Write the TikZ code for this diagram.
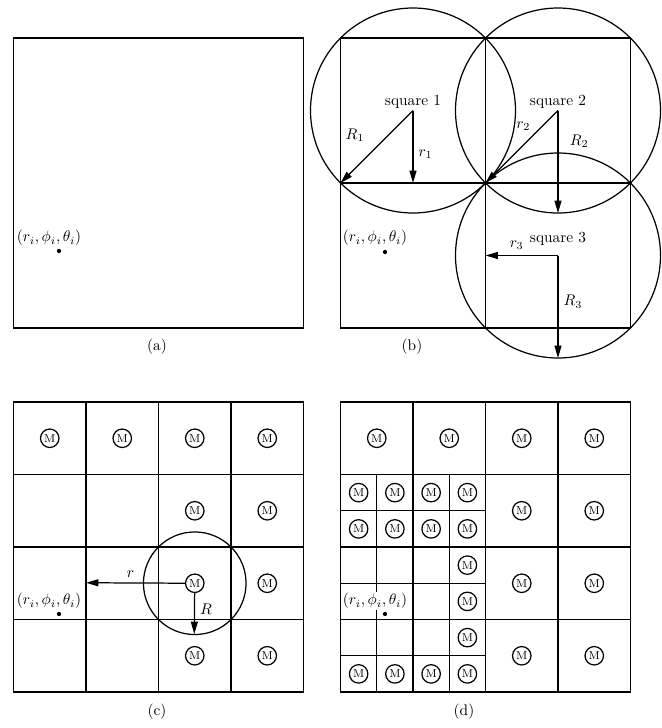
\documentclass[tikz,border=0pt]{standalone}
\usepackage{amsfonts,amsmath,amssymb}
\usepackage{tikz}
\usetikzlibrary{arrows.meta,shapes}
\begin{document}
\begin{tikzpicture}[x=0.65pt,y=-0.65pt,>={Triangle[length=8pt,width=4.5pt]},line width=0.8pt,
  mol/.style={shape=circle,draw,line width=0.8pt,minimum size=12pt,inner sep=0pt,font=\fontsize{7.5}{8}\selectfont},
  spot/.style={shape=circle,fill=black,inner sep=0pt,minimum size=2.8pt},
  outer/.style={line width=1.1pt}]
\useasboundingbox(0,0)rectangle(662,728);
\draw[outer](13.5,38)rectangle(303.5,328);
\node[spot](pa)at(59,251){};
\node(la)at(49,238){$(r_i,\phi_i,\theta_i)$};
\node(ca)at(157,347){(a)};
\draw[outer](340.5,38)rectangle(630.5,328);
\draw(485.5,38)--(485.5,328)(340.5,183)--(630.5,183);
\coordinate(s1)at(413,110.5);
\coordinate(s2)at(558,110.5);
\coordinate(s3)at(558,255.5);
\foreach \s in {s1,s2,s3}\draw(\s)circle(102.5);
\coordinate(k1)at(340.5,183);
\coordinate(m1)at(413,183);
\coordinate(k2)at(485.5,183);
\coordinate(b2)at(558,213);
\coordinate(w3)at(485.5,255.5);
\coordinate(b3)at(558,358);
\node[above,inner sep=1pt](q1)at(s1){square 1};
\node[above,inner sep=1pt](q2)at(s2){square 2};
\node[above=5pt,inner sep=1pt](q3)at(s3){square 3};
\draw[->](s1)--node[above left=2pt,pos=.55]{$R_1$}(k1);
\draw[->](s1)--node[right,pos=.6]{$r_1$}(m1);
\draw[->](s2)--node[left=4pt,pos=.22]{$r_2$}(k2);
\draw[->](s2)--node[right=4pt,pos=.3]{$R_2$}(b2);
\draw[->](s3)--node[above,pos=.57]{$r_3$}(w3);
\draw[->](s3)--node[right,pos=.45]{$R_3$}(b3);
\node[spot](pb)at(385,252){};
\node(lb)at(375,238){$(r_i,\phi_i,\theta_i)$};
\node(cb)at(412,347){(b)};
\foreach \i in {1,2,3}\draw(13.5+72.5*\i,402)--(13.5+72.5*\i,692)(13.5,402+72.5*\i)--(303.5,402+72.5*\i);
\draw[outer](13.5,402)rectangle(303.5,692);
\foreach \c/\r in {1/1,2/1,3/1,4/1,3/2,4/2,3/3,4/3,3/4,4/4}\node[mol](c\c\r)at(13.5+72.5*\c-36.25,402+72.5*\r-36.25){M};
\draw(c33.center)circle(51.3);
\coordinate(rc)at(86,582.75);
\coordinate(Rc)at(194.25,634);
\draw[->](c33)--node[above,pos=.55]{$r$}(rc);
\draw[->](c33)--node[right,pos=.4]{$R$}(Rc);
\node[spot](pc)at(59,614){};
\node(lc)at(49,601){$(r_i,\phi_i,\theta_i)$};
\node(cc)at(157,712){(c)};
\foreach \i in {1,2,3}\draw(340.5+72.5*\i,402)--(340.5+72.5*\i,692)(340.5,402+72.5*\i)--(630.5,402+72.5*\i);
\foreach \j in {1,3}\draw(340.5+36.25*\j,474.5)--(340.5+36.25*\j,692);
\foreach \k in {1,3,5}\draw(340.5,474.5+36.25*\k)--(485.5,474.5+36.25*\k);
\draw[outer](340.5,402)rectangle(630.5,692);
\foreach \c/\r in {1/1,2/1,3/1,4/1,3/2,4/2,3/3,4/3,3/4,4/4}\node[mol](d\c\r)at(340.5+72.5*\c-36.25,402+72.5*\r-36.25){M};
\foreach \j/\k in {1/1,2/1,3/1,4/1,1/2,2/2,3/2,4/2,4/3,4/4,4/5,1/6,2/6,3/6,4/6}\node[mol](e\j\k)at(340.5+36.25*\j-18.125,474.5+36.25*\k-18.125){M};
\node[spot](pd)at(385,614){};
\node[fill=white,inner sep=1pt](ld)at(375,601){$(r_i,\phi_i,\theta_i)$};
\node(cd)at(464,712){(d)};
\end{tikzpicture}
\end{document}
